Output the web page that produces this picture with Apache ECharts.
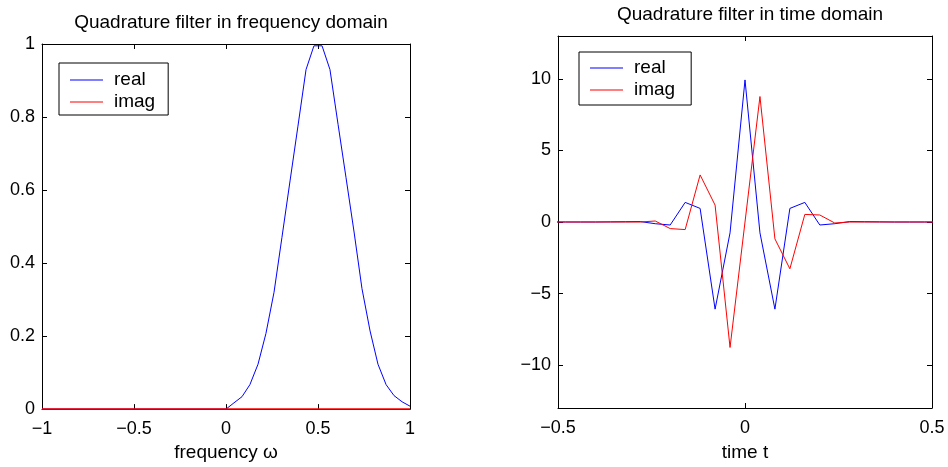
<!DOCTYPE html>
<html><head><meta charset="utf-8">
<script src="https://cdn.jsdelivr.net/npm/echarts@6/dist/echarts.min.js"></script>
<style>html,body{margin:0;padding:0;background:#fff}#c{width:948px;height:467px}</style>
</head><body><div id="c"></div>
<script>
// ---- Frequency domain (left) ----
const freqOmega = [-1, 0, 0.043, 0.087, 0.130, 0.174, 0.217, 0.261, 0.304, 0.348, 0.391, 0.435, 0.478,
                   0.522, 0.565, 0.609, 0.652, 0.696, 0.739, 0.783, 0.826, 0.870, 0.913, 0.957, 1];
const freqReal  = [0, 0, 0.017, 0.034, 0.067, 0.123, 0.207, 0.32, 0.47, 0.625, 0.775, 0.93, 0.995,
                   0.995, 0.93, 0.78, 0.635, 0.485, 0.33, 0.214, 0.123, 0.067, 0.037, 0.02, 0.008];
const freqImagOmega = [-1, 1];
const freqImag      = [0, 0];
const freqXTicks = [-1, -0.5, 0, 0.5, 1];
const freqYTicks = [0, 0.2, 0.4, 0.6, 0.8, 1];

// ---- Time domain (right) ----
const timeT = [-0.52, -0.48, -0.44, -0.40, -0.36, -0.32, -0.28, -0.24, -0.20, -0.16, -0.12, -0.08, -0.04, 0,
               0.04, 0.08, 0.12, 0.16, 0.20, 0.24, 0.28, 0.32, 0.36, 0.40, 0.44, 0.48, 0.52];
const timeReal = [0, 0, 0, 0, 0.01, 0.02, 0.03, -0.12, -0.21, 1.37, 0.95, -6.09, -0.76, 9.93,
                  -0.76, -6.09, 0.95, 1.37, -0.21, -0.12, 0.03, 0.02, 0.01, 0, 0, 0, 0];
const timeImag = [0, 0, 0, 0, 0, 0, 0, 0.07, -0.46, -0.53, 3.29, 1.18, -8.77, 0,
                  8.77, -1.18, -3.27, 0.53, 0.49, -0.07, 0, 0, 0, 0, 0, 0, 0];
const timeXTicks = [-0.5, 0, 0.5];
const timeYTicks = [-10, -5, 0, 5, 10];

const FONT = 'Liberation Sans';
const fmt = v => String(v).replace('-', '\u2212');
const zip = (xs, ys) => xs.map((x, i) => [x, ys[i]]);

function axis(grid, pos, min, max, ticks, labels, margin, extra) {
  return Object.assign({
    type: 'value', gridIndex: grid, position: pos, min: min, max: max,
    axisLine: {show: true, onZero: false, lineStyle: {color: '#000', width: 1}},
    axisTick: {show: true, inside: true, length: 5, customValues: ticks, lineStyle: {color: '#000'}},
    axisLabel: {show: labels, customValues: ticks, formatter: fmt, color: '#000',
                fontFamily: FONT, fontSize: 18, margin: margin},
    splitLine: {show: false}
  }, extra || {});
}
function legendAt(left, top, padding) {
  return {left: left, top: top, orient: 'vertical', data: ['real', 'imag'],
    icon: 'rect', itemWidth: 33, itemHeight: 1.2, itemGap: 2,
    padding: padding, borderColor: '#000', borderWidth: 1, backgroundColor: '#fff',
    selectedMode: false,
    textStyle: {fontFamily: FONT, fontSize: 19, color: '#000', padding: [0, 0, 0, 6], lineHeight: 20}};
}
const titleStyle = {fontFamily: FONT, fontSize: 19, fontWeight: 'normal', color: '#000'};
const nameStyle = {fontFamily: FONT, fontSize: 19, color: '#000'};

const chart = echarts.init(document.getElementById('c'), null, {renderer: 'canvas'});
chart.setOption({
  animation: false,
  backgroundColor: '#fff',
  title: [
    {text: 'Quadrature filter in frequency domain', left: 226, top: 8, textAlign: 'center', textStyle: titleStyle},
    {text: 'Quadrature filter in time domain', left: 745, top: 0, textAlign: 'center', textStyle: titleStyle}
  ],
  grid: [
    {left: 42, top: 44, width: 368, height: 368},
    {left: 558, top: 36, width: 374, height: 372}
  ],
  xAxis: [
    axis(0, 'bottom', -1, 1, freqXTicks, true, 11,
         {name: 'frequency \u03c9', nameLocation: 'middle', nameGap: 31, nameTextStyle: nameStyle}),
    axis(0, 'top', -1, 1, freqXTicks, false, 6),
    axis(1, 'bottom', -0.5, 0.5, timeXTicks, true, 11,
         {name: 'time t', nameLocation: 'middle', nameGap: 35, nameTextStyle: nameStyle}),
    axis(1, 'top', -0.5, 0.5, timeXTicks, false, 6)
  ],
  yAxis: [
    axis(0, 'left', 0, 1, freqYTicks, true, 7),
    axis(0, 'right', 0, 1, freqYTicks, false, 7),
    axis(1, 'left', -13, 13, timeYTicks, true, 7),
    axis(1, 'right', -13, 13, timeYTicks, false, 7)
  ],
  legend: [
    legendAt(59, 63, [7, 13, 3, 11]),
    legendAt(579, 52, [6, 16, 5, 11])
  ],
  series: [
    {name: 'real', type: 'line', xAxisIndex: 0, yAxisIndex: 0, data: zip(freqOmega, freqReal),
     symbol: 'none', lineStyle: {color: '#0000ff', width: 1}, itemStyle: {color: '#0000ff'}, clip: true},
    {name: 'imag', type: 'line', xAxisIndex: 0, yAxisIndex: 0, data: zip(freqImagOmega, freqImag),
     symbol: 'none', lineStyle: {color: '#ff0000', width: 1.5}, itemStyle: {color: '#ff0000'}, clip: false},
    {name: 'real', type: 'line', xAxisIndex: 2, yAxisIndex: 2, data: zip(timeT, timeReal),
     symbol: 'none', lineStyle: {color: '#0000ff', width: 1}, itemStyle: {color: '#0000ff'}, clip: true},
    {name: 'imag', type: 'line', xAxisIndex: 2, yAxisIndex: 2, data: zip(timeT, timeImag),
     symbol: 'none', lineStyle: {color: '#ff0000', width: 1}, itemStyle: {color: '#ff0000'}, clip: true}
  ]
});
</script></body></html>
